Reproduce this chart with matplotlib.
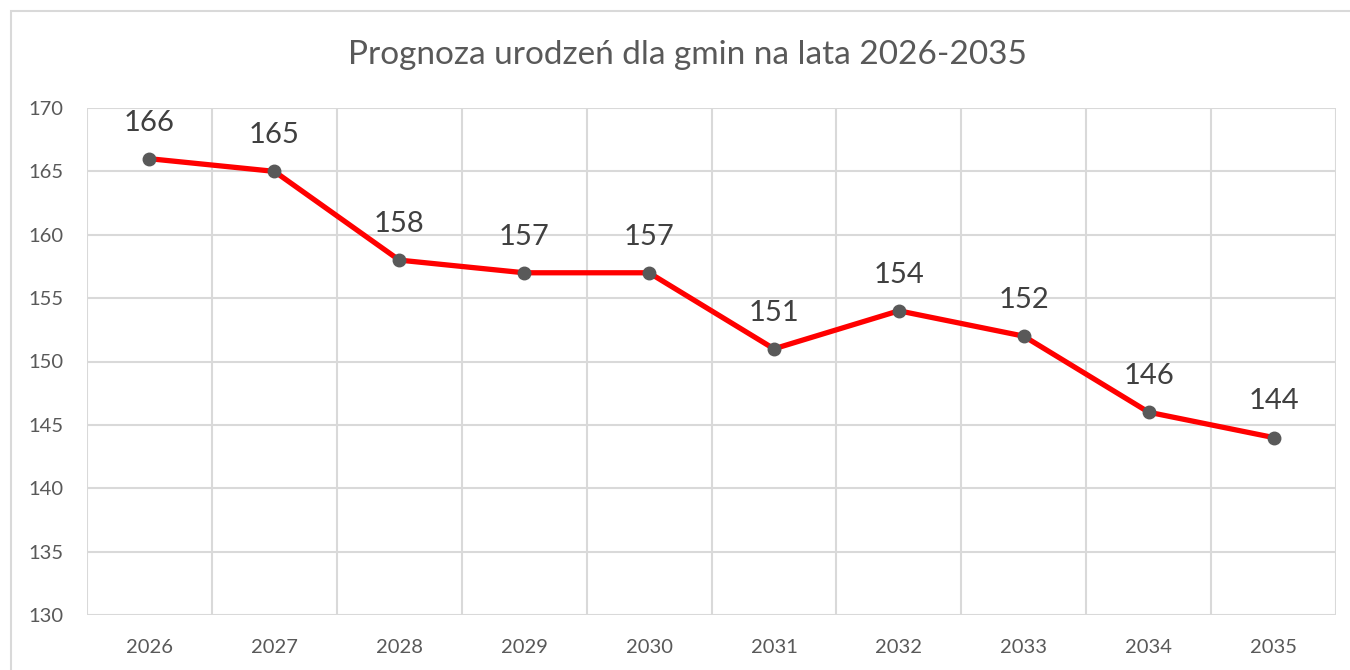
import matplotlib.pyplot as plt
import numpy as np
from matplotlib.patches import Rectangle

# data
years = ['2026', '2027', '2028', '2029', '2030', '2031', '2032', '2033', '2034', '2035']
births = [166, 165, 158, 157, 157, 151, 154, 152, 146, 144]
title = 'Prognoza urodzeń dla gmin na lata 2026-2035'

plt.rcParams['font.family'] = ['Lato', 'DejaVu Sans']
txt_col = '#595959'
grid_col = '#d9d9d9'

fig = plt.figure(figsize=(13.5, 6.7), dpi=100)
ax = fig.add_axes([87/1350, 1 - 615/670, (1336-87)/1350, (615-108)/670])

# outer chart border (left and top edges visible)
fig.patches.append(Rectangle((11/1350, -0.1), 1.2, 1 - 11/670 + 0.1, transform=fig.transFigure,
                             fill=False, edgecolor=grid_col, linewidth=1.5))

x = np.arange(len(years))
ax.plot(x, births, color='#ff0000', linewidth=3.8, zorder=3,
        marker='o', markersize=9, markerfacecolor=txt_col, markeredgecolor=txt_col)

for xi, v in zip(x, births):
    ax.annotate(str(v), (xi, v), xytext=(0, 26), textcoords='offset points',
                ha='center', va='center', fontsize=21, color='#404040')

ax.set_xlim(-0.5, len(years) - 0.5)
ax.set_ylim(130, 170)
ax.set_yticks(np.arange(130, 171, 5))
ax.set_xticks(x)
ax.set_xticklabels(years)

# gridlines at category boundaries
for b in np.arange(-0.5, len(years), 1):
    ax.axvline(b, color=grid_col, linewidth=1.5, zorder=1)
for yv in np.arange(130, 171, 5):
    ax.axhline(yv, color=grid_col, linewidth=1.5, zorder=1)

for s in ax.spines.values():
    s.set_visible(False)
ax.tick_params(axis='both', length=0, labelsize=14.5, labelcolor=txt_col)
ax.tick_params(axis='y', pad=17)
ax.tick_params(axis='x', pad=17)

fig.text(687/1350, 1 - 55/670, title, ha='center', va='center', fontsize=24, color=txt_col)

fig.savefig('out.png', dpi=100)
